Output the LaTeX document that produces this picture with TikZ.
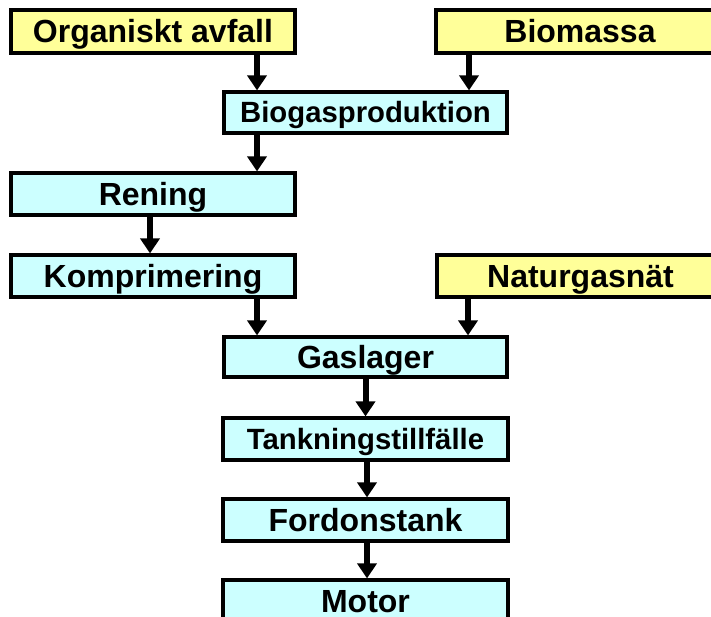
\documentclass[tikz,border=0pt]{standalone}
\usepackage{fontspec}
\setmainfont{Liberation Sans}
\usetikzlibrary{arrows.meta}
\definecolor{srcyellow}{HTML}{FFFF99}
\definecolor{stagecyan}{HTML}{CCFFFF}
\begin{document}
\begin{tikzpicture}[x=1pt,y=-1pt,
  box/.style={draw=black,line width=3.2pt,inner sep=0pt,minimum height=42pt,
    text height=23pt,text depth=0pt,
    font=\fontsize{32}{36}\selectfont\bfseries},
  srcbox/.style={box,fill=srcyellow},
  stagebox/.style={box,fill=stagecyan},
  smalltext/.style={text height=21pt,font=\fontsize{29.3}{34}\selectfont\bfseries},
  flow/.style={line width=6pt,-{Triangle[width=19pt,length=15pt]}}]
\useasboundingbox (0,0) rectangle (711,617);
\begin{scope}
\clip (0,0) rectangle (711,617);
% sources
\node[srcbox,minimum width=284pt,minimum height=43pt] (org) at (153,31.5) {Organiskt avfall};
\node[srcbox,minimum width=288pt,minimum height=43pt] (bio) at (580,31.5) {Biomassa};
\node[srcbox,minimum width=287pt] (nat) at (580.5,276) {Naturgasnät};
% process chain
\node[stagebox,smalltext,minimum width=283pt,minimum height=41pt] (bgp) at (365.5,112.5) {Biogasproduktion};
\node[stagebox,minimum width=284pt] (ren) at (153,194) {Rening};
\node[stagebox,minimum width=284pt] (kom) at (153,276) {Komprimering};
\node[stagebox,minimum width=283pt,minimum height=40pt] (gas) at (365.5,357) {Gaslager};
\node[stagebox,smalltext,minimum width=285pt] (tank) at (365.5,439) {Tankningstillfälle};
\node[stagebox,minimum width=285pt] (ford) at (365.5,520) {Fordonstank};
\node[stagebox,minimum width=285pt] (mot) at (365.5,601) {Motor};
% connectors
\draw[flow] ([xshift=104pt]org.south) -- ([xshift=104pt]org.south |- bgp.north);
\draw[flow] ([xshift=-111pt]bio.south) -- ([xshift=-111pt]bio.south |- bgp.north);
\draw[flow] ([xshift=-108.5pt]bgp.south) -- ([xshift=-108.5pt]bgp.south |- ren.north);
\draw[flow] ([xshift=-3pt]ren.south) -- ([xshift=-3pt]ren.south |- kom.north);
\draw[flow] ([xshift=104pt]kom.south) -- ([xshift=104pt]kom.south |- gas.north);
\draw[flow] ([xshift=-112.5pt]nat.south) -- ([xshift=-112.5pt]nat.south |- gas.north);
\draw[flow] (gas.south) -- (tank.north);
\draw[flow] ([xshift=1.5pt]tank.south) -- ([xshift=1.5pt]tank.south |- ford.north);
\draw[flow] ([xshift=1.5pt]ford.south) -- ([xshift=1.5pt]ford.south |- mot.north);
\end{scope}
\end{tikzpicture}
\end{document}
